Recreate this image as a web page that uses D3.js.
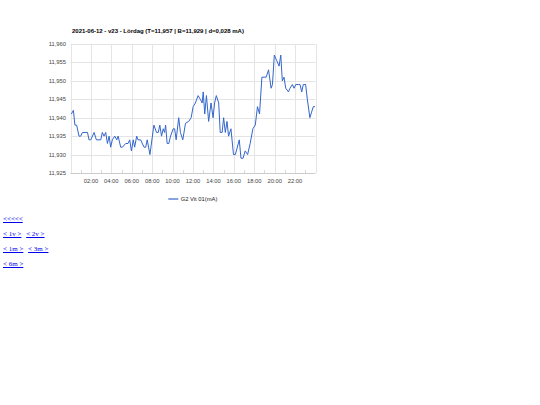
<!DOCTYPE html>
<html><head><meta charset="utf-8">
<script src="https://cdn.jsdelivr.net/npm/d3@7"></script>
<style>
body{margin:0;background:#fff;}
#links{position:absolute;left:3px;top:213px;font-family:"Liberation Serif","Times New Roman",serif;font-size:7px;}
#links div{height:15px;line-height:12px;}
#links a{color:#0000ee;text-decoration:underline;margin-right:3px;}
</style></head><body>
<svg id="chart" width="540" height="205" style="position:absolute;left:0;top:0"></svg>
<div id="links">
<div><a href="#">&lt;&lt;&lt;&lt;&lt;</a></div>
<div><a href="#">&lt; 1v &gt;</a> <a href="#">&lt; 2v &gt;</a></div>
<div><a href="#">&lt; 1m &gt;</a> <a href="#">&lt; 3m &gt;</a></div>
<div><a href="#">&lt; 6m &gt;</a></div>
</div>
<script>
const title = "2021-06-12 - v23 - Lördag (T=11,957 | B=11,929 | d=0,028 mA)";
const seriesName = "G2 Vit 01(mA)";
const yTicks = [11.925, 11.930, 11.935, 11.940, 11.945, 11.950, 11.955, 11.960];
const xTickHours = [2, 4, 6, 8, 10, 12, 14, 16, 18, 20, 22];
const times = [
"00:05","00:17","00:26","00:36","00:50","01:00","01:10","01:40","01:49","01:59","02:19","02:32","02:58","03:07","03:17","03:27","03:37","03:47","03:56","04:06","04:20","04:32","04:40","04:55","05:05","05:24","05:38","05:48","05:58","06:09","06:17","06:29","06:37","06:52","07:12","07:22","07:31","07:47","08:10","08:26","08:36","08:45","08:55","09:05","09:13","09:19","09:28","09:38","09:48","10:04","10:12","10:21","10:36","10:46","11:00","11:16","11:35","11:49","12:01","12:14","12:30","12:43","12:54","13:00","13:09","13:19","13:32","13:46","13:58","14:07","14:17","14:31","14:40","14:51","15:00","15:10","15:20","15:29","15:43","15:58","16:09","16:32","16:42","16:54","17:07","17:21","17:36","17:52","18:06","18:19","18:31","18:45","19:10","19:24","19:39","19:47","19:58","20:12","20:26","20:36","20:45","20:55","21:05","21:21","21:30","21:44","21:54","22:04","22:19","22:29","22:39","22:48","23:02","23:12","23:27","23:37","23:47","23:57"
];
const values = [
11.941,11.942,11.938,11.938,11.935,11.935,11.936,11.936,11.934,11.934,11.936,11.934,11.934,11.936,11.935,11.936,11.933,11.935,11.932,11.934,11.935,11.934,11.935,11.932,11.932,11.933,11.933,11.934,11.931,11.934,11.932,11.935,11.934,11.934,11.932,11.932,11.934,11.930,11.938,11.936,11.936,11.938,11.935,11.937,11.936,11.938,11.933,11.933,11.935,11.937,11.937,11.934,11.940,11.936,11.934,11.9385,11.939,11.940,11.943,11.944,11.946,11.945,11.944,11.947,11.941,11.946,11.939,11.944,11.940,11.944,11.946,11.944,11.936,11.936,11.940,11.936,11.939,11.935,11.937,11.930,11.930,11.934,11.929,11.929,11.931,11.930,11.933,11.937,11.938,11.943,11.941,11.951,11.951,11.953,11.948,11.949,11.957,11.9555,11.954,11.957,11.950,11.951,11.948,11.947,11.948,11.949,11.948,11.949,11.949,11.949,11.947,11.949,11.949,11.945,11.940,11.9415,11.943,11.943
];

(function () {
const svg = d3.select("#chart");
const pl = 70.5, pr = 315.5, pt = 44, pb = 173;
const day = new Date(2021, 5, 12);
const parse = d3.timeParse("%H:%M");
const toDate = s => { const t = parse(s); return new Date(2021, 5, 12, t.getHours(), t.getMinutes()); };
const hr = h => new Date(2021, 5, 12, h);
const data = times.map((t, i) => ({t: toDate(t), v: values[i]}));

const x = d3.scaleTime().domain([day, new Date(2021, 5, 13)]).range([pl, pr]);
const y = d3.scaleLinear().domain([11.925, 11.960]).range([pb, pt]);
const font = "Arial, 'Liberation Sans', sans-serif";

svg.append("text").attr("x", 72).attr("y", 33).attr("font-family", font)
  .attr("font-size", 6).attr("font-weight", "bold").attr("fill", "#000").text(title);

svg.append("g").selectAll("line").data(yTicks).join("line")
  .attr("x1", pl).attr("x2", pr)
  .attr("y1", d => Math.round(y(d)) + 0.5).attr("y2", d => Math.round(y(d)) + 0.5)
  .attr("stroke", d => d === 11.925 ? "#cccccc" : "#e4e4e4").attr("stroke-width", 1);

const vHours = [0].concat(xTickHours, [24]);
svg.append("g").selectAll("line").data(vHours).join("line")
  .attr("x1", d => Math.round(x(hr(d))) + 0.5)
  .attr("x2", d => Math.round(x(hr(d))) + 0.5)
  .attr("y1", pt).attr("y2", pb)
  .attr("stroke", "#e4e4e4").attr("stroke-width", 1);

const minor = d3.range(1, 24, 2);
svg.append("g").selectAll("line").data(minor).join("line")
  .attr("x1", d => Math.round(x(hr(d))) + 0.5)
  .attr("x2", d => Math.round(x(hr(d))) + 0.5)
  .attr("y1", pb - 3).attr("y2", pb)
  .attr("stroke", "#d8d8d8").attr("stroke-width", 1);

svg.append("g").selectAll("text").data(yTicks).join("text")
  .attr("x", 66).attr("y", d => y(d) + 2).attr("text-anchor", "end")
  .attr("font-family", font).attr("font-size", 5.8).attr("fill", "#444")
  .text(d => d3.format(",.3f")(d).replace(".", ","));

svg.append("g").selectAll("text").data(xTickHours).join("text")
  .attr("x", d => x(hr(d))).attr("y", 182.7).attr("text-anchor", "middle")
  .attr("font-family", font).attr("font-size", 5.8).attr("fill", "#444")
  .text(d => d3.timeFormat("%H:%M")(hr(d)));

svg.append("path").datum(data)
  .attr("d", d3.line().x(d => x(d.t)).y(d => y(d.v)))
  .attr("fill", "none").attr("stroke", "#3366cc").attr("stroke-width", 1);

svg.append("line").attr("x1", 168.3).attr("x2", 178.3).attr("y1", 199).attr("y2", 199)
  .attr("stroke", "#3366cc").attr("stroke-width", 1.2);
svg.append("text").attr("x", 180.7).attr("y", 201).attr("font-family", font)
  .attr("font-size", 5.8).attr("fill", "#222").text(seriesName);
})();
</script>
</body></html>
